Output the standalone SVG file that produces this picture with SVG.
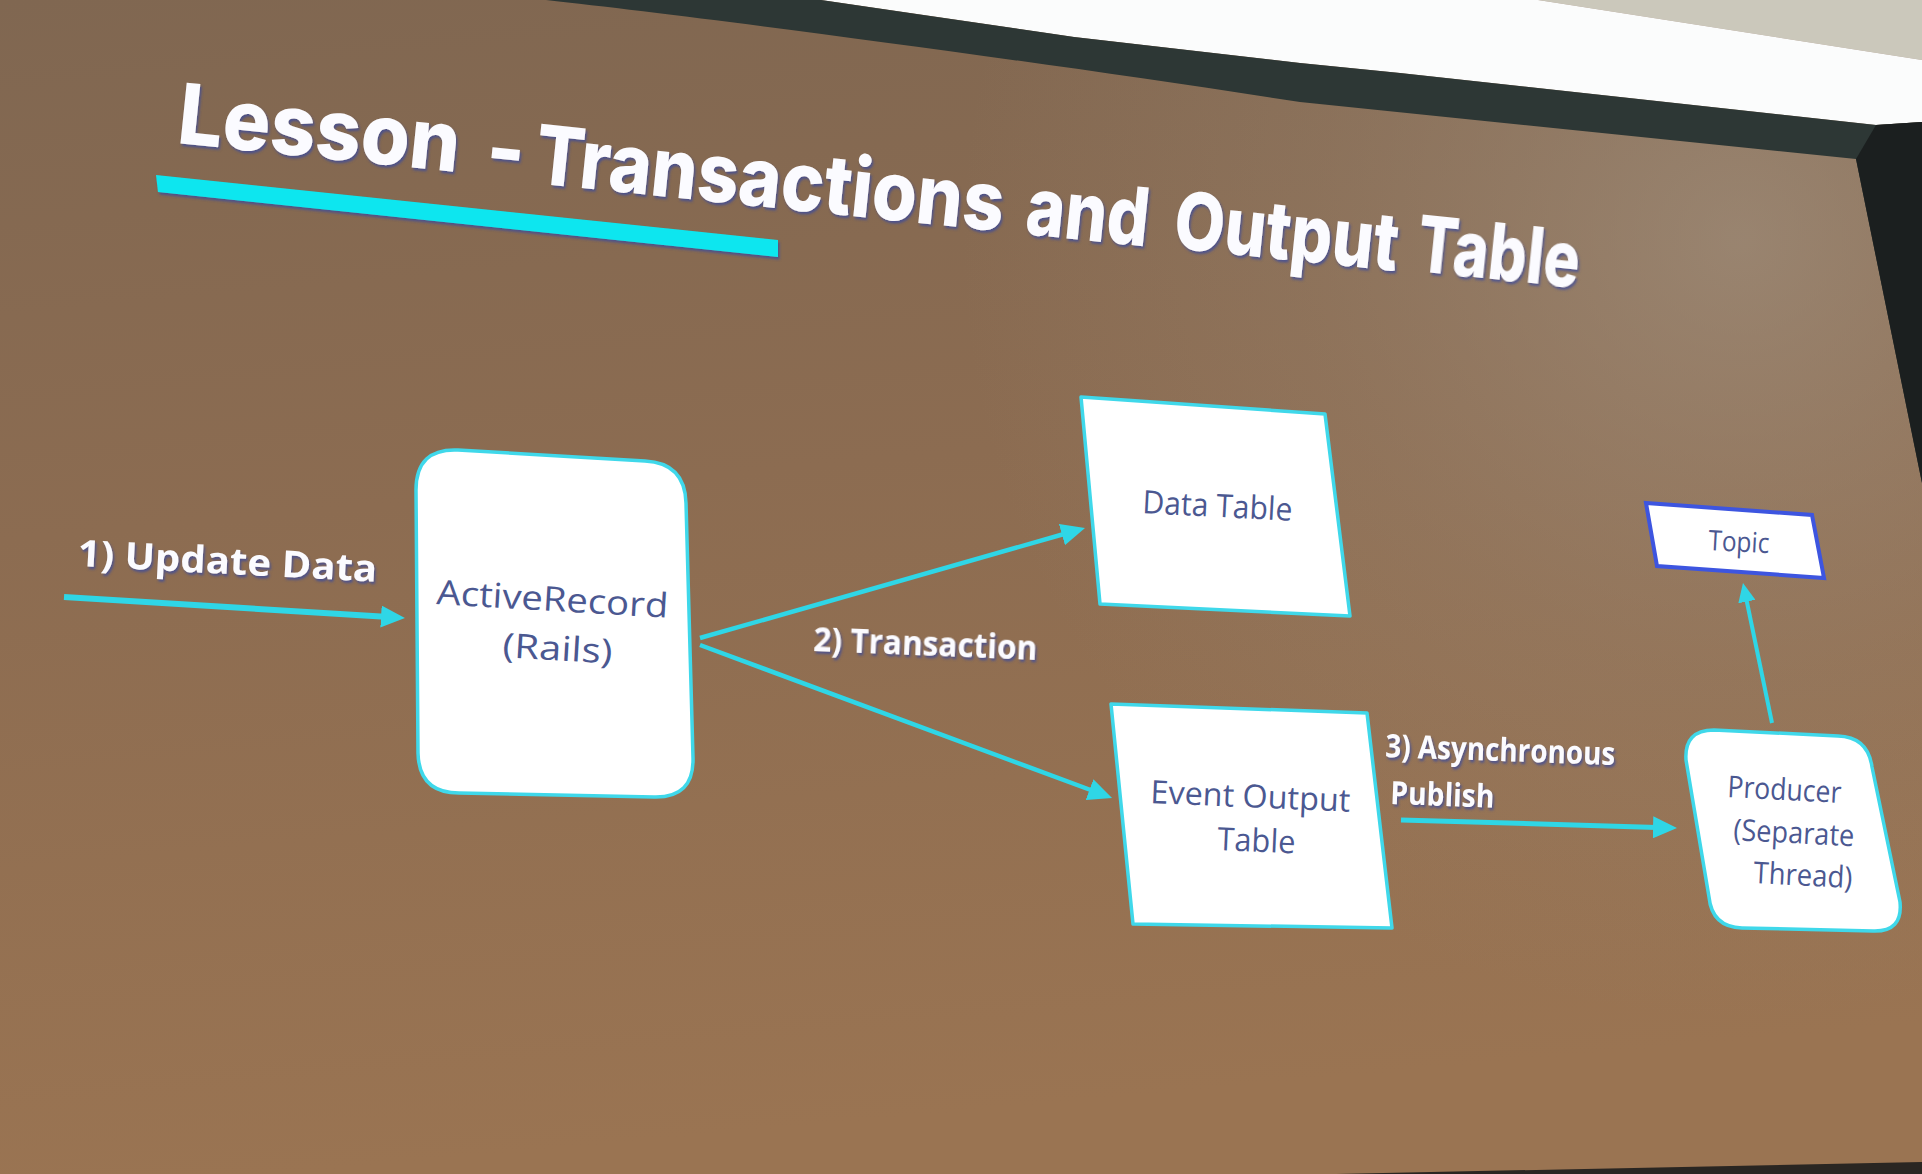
<svg xmlns="http://www.w3.org/2000/svg" width="1922" height="1174" viewBox="0 0 1922 1174">
  <defs>
    <linearGradient id="screen" x1="0" y1="0" x2="0.15" y2="1">
      <stop offset="0" stop-color="#806751"/>
      <stop offset="0.45" stop-color="#8c6c51"/>
      <stop offset="1" stop-color="#9a7452"/>
    </linearGradient>
    <radialGradient id="haze" cx="1740" cy="240" r="780" gradientUnits="userSpaceOnUse">
      <stop offset="0" stop-color="#a49584" stop-opacity="0.6"/>
      <stop offset="0.55" stop-color="#9c8a77" stop-opacity="0.25"/>
      <stop offset="1" stop-color="#9c8a77" stop-opacity="0"/>
    </radialGradient>
    <filter id="fringe" x="-5%" y="-20%" width="110%" height="150%">
      <feDropShadow dx="1.5" dy="2.5" stdDeviation="0.9" flood-color="#3a4a9e" flood-opacity="0.75"/>
    </filter>
    <marker id="head" viewBox="0 0 12 11" markerWidth="24" markerHeight="22" refX="2" refY="5.5" orient="auto" markerUnits="userSpaceOnUse">
      <path d="M0,0 L12,5.5 L0,11 Z" fill="#2fd6e6"/>
    </marker>
    <marker id="head-sm" viewBox="0 0 12 11" markerWidth="19" markerHeight="17.4" refX="2" refY="5.5" orient="auto" markerUnits="userSpaceOnUse">
      <path d="M0,0 L12,5.5 L0,11 Z" fill="#2fd6e6"/>
    </marker>
    <style>
      .title { font-family: Inter, "Liberation Sans", sans-serif; font-weight: 800; fill: #fbfbff; }
      .label { font-family: "Open Sans", "Liberation Sans", sans-serif; font-weight: 700; fill: #fbfbff; }
      .node-text { font-family: "Open Sans", "Liberation Sans", sans-serif; font-weight: 400; fill: #4b5891; }
      .box { fill: #ffffff; stroke: #3fd8ea; stroke-width: 3.5; stroke-linejoin: round; }
      .box-blue { fill: #ffffff; stroke: #3d55e0; stroke-width: 4; }
      .arrow { fill: none; stroke: #2fd6e6; stroke-linecap: butt; }
    </style>
  </defs>

  <!-- projection screen surface -->
  <rect x="0" y="0" width="1922" height="1174" fill="url(#screen)"/>
  <rect x="0" y="0" width="1922" height="1174" fill="url(#haze)"/>

  <!-- room above the screen: ceiling, light strip, screen frame -->
  <polygon points="1538,0 1922,0 1922,60" fill="#cbc8bb"/>
  <polygon points="821,0 1538,0 1922,60 1922,122 1876,125 1400,73 1300,63 1074,37" fill="#fbfcfc"/>
  <path d="M546,0 L821,0 Q950,19 1074,37 L1300,63 L1400,73 L1876,125 L1922,122 L1922,483 L1856,159 L1300,102 C1000,56 700,17 546,0 Z" fill="#2d3735"/>
  <polygon points="1876,125 1922,122 1922,483 1856,159" fill="#1b1f1f"/>
  <polygon points="1336,1174 1922,1162 1922,1174" fill="#2a2622"/>

  <!-- slide heading -->
  <g id="title" filter="url(#fringe)">
    <text class="title" x="176" y="143" font-size="84" textLength="283" lengthAdjust="spacingAndGlyphs" transform="rotate(5.9 176 143)">Lesson</text>
    <text class="title" x="484" y="176" font-size="82" transform="rotate(5.9 484 176)">-</text>
    <text class="title" x="533" y="183" font-size="82" textLength="471" lengthAdjust="spacingAndGlyphs" transform="rotate(5.9 533 183)">Transactions</text>
    <text class="title" x="1024" y="234" font-size="81" textLength="123" lengthAdjust="spacingAndGlyphs" transform="rotate(5.9 1024 234)">and</text>
    <text class="title" x="1172" y="248" font-size="80" textLength="225" lengthAdjust="spacingAndGlyphs" transform="rotate(5.9 1172 248)">Output</text>
    <text class="title" x="1415" y="271" font-size="78" textLength="163" lengthAdjust="spacingAndGlyphs" transform="rotate(5.9 1415 271)">Table</text>
    <polygon points="156,175 778,240 778,257 158,192" fill="#10e6ef"/>
  </g>

  <!-- nodes -->
  <g id="node-activerecord">
    <path class="box" d="M416,490 Q416,448 458,450 L645,461 Q685,463 686,503 L693,758 Q694,798 654,797 L459,793 Q419,793 418,753 Z"/>
    <text class="node-text" x="436" y="604" font-size="34" textLength="232" lengthAdjust="spacingAndGlyphs" transform="rotate(3.4 436 604)">ActiveRecord</text>
    <text class="node-text" x="502" y="657" font-size="34" textLength="110" lengthAdjust="spacingAndGlyphs" transform="rotate(3.4 502 657)">(Rails)</text>
  </g>

  <g id="node-data-table">
    <polygon class="box" points="1081,397 1325,414 1350,616 1100,604"/>
    <text class="node-text" x="1142" y="513" font-size="32" textLength="150" lengthAdjust="spacingAndGlyphs" transform="rotate(3 1142 513)">Data Table</text>
  </g>

  <g id="node-event-output-table">
    <polygon class="box" points="1111,704 1367,713 1392,928 1133,924"/>
    <text class="node-text" x="1150" y="803" font-size="32" textLength="200" lengthAdjust="spacingAndGlyphs" transform="rotate(2.5 1150 803)">Event Output</text>
    <text class="node-text" x="1217" y="850" font-size="32" textLength="78" lengthAdjust="spacingAndGlyphs" transform="rotate(2.5 1217 850)">Table</text>
  </g>

  <g id="node-topic">
    <polygon class="box-blue" points="1646,503 1812,515 1824,578 1657,566"/>
    <text class="node-text" x="1708" y="550" font-size="28" textLength="61" lengthAdjust="spacingAndGlyphs" transform="rotate(3 1708 550)">Topic</text>
  </g>

  <g id="node-producer">
    <path class="box" d="M1686,760 Q1684,730 1714,730 L1838,736 Q1868,737 1872,767 L1900,902 Q1903,932 1873,931 L1742,928 Q1712,927 1709,897 Z"/>
    <text class="node-text" x="1727" y="797" font-size="30" textLength="114" lengthAdjust="spacingAndGlyphs" transform="rotate(3 1727 797)">Producer</text>
    <text class="node-text" x="1733" y="840" font-size="30" textLength="121" lengthAdjust="spacingAndGlyphs" transform="rotate(3 1733 840)">(Separate</text>
    <text class="node-text" x="1753" y="883" font-size="30" textLength="99" lengthAdjust="spacingAndGlyphs" transform="rotate(3 1753 883)">Thread)</text>
  </g>

  <!-- connectors and their labels -->
  <g id="connectors">
    <line class="arrow" x1="64" y1="597" x2="385" y2="616.8" stroke-width="6" marker-end="url(#head)"/>
    <line class="arrow" x1="700" y1="638" x2="1065.8" y2="533.5" stroke-width="4.5" marker-end="url(#head)"/>
    <line class="arrow" x1="700" y1="645" x2="1093.3" y2="791" stroke-width="4.5" marker-end="url(#head)"/>
    <line class="arrow" x1="1401" y1="820" x2="1657" y2="827.4" stroke-width="5" marker-end="url(#head)"/>
    <line class="arrow" x1="1772" y1="723" x2="1746.2" y2="598.5" stroke-width="4" marker-end="url(#head-sm)"/>

    <g filter="url(#fringe)">
      <text class="label" x="77" y="566" font-size="37" textLength="300" lengthAdjust="spacingAndGlyphs" transform="rotate(3 77 566)">1) Update Data</text>
      <text class="label" x="813" y="651" font-size="34" textLength="224" lengthAdjust="spacingAndGlyphs" transform="rotate(2.3 813 651)">2) Transaction</text>
      <text class="label" x="1385" y="757" font-size="32" textLength="230" lengthAdjust="spacingAndGlyphs" transform="rotate(2 1385 757)">3) Asynchronous</text>
      <text class="label" x="1390" y="804" font-size="32" textLength="104" lengthAdjust="spacingAndGlyphs" transform="rotate(2 1390 804)">Publish</text>
    </g>
  </g>
</svg>
